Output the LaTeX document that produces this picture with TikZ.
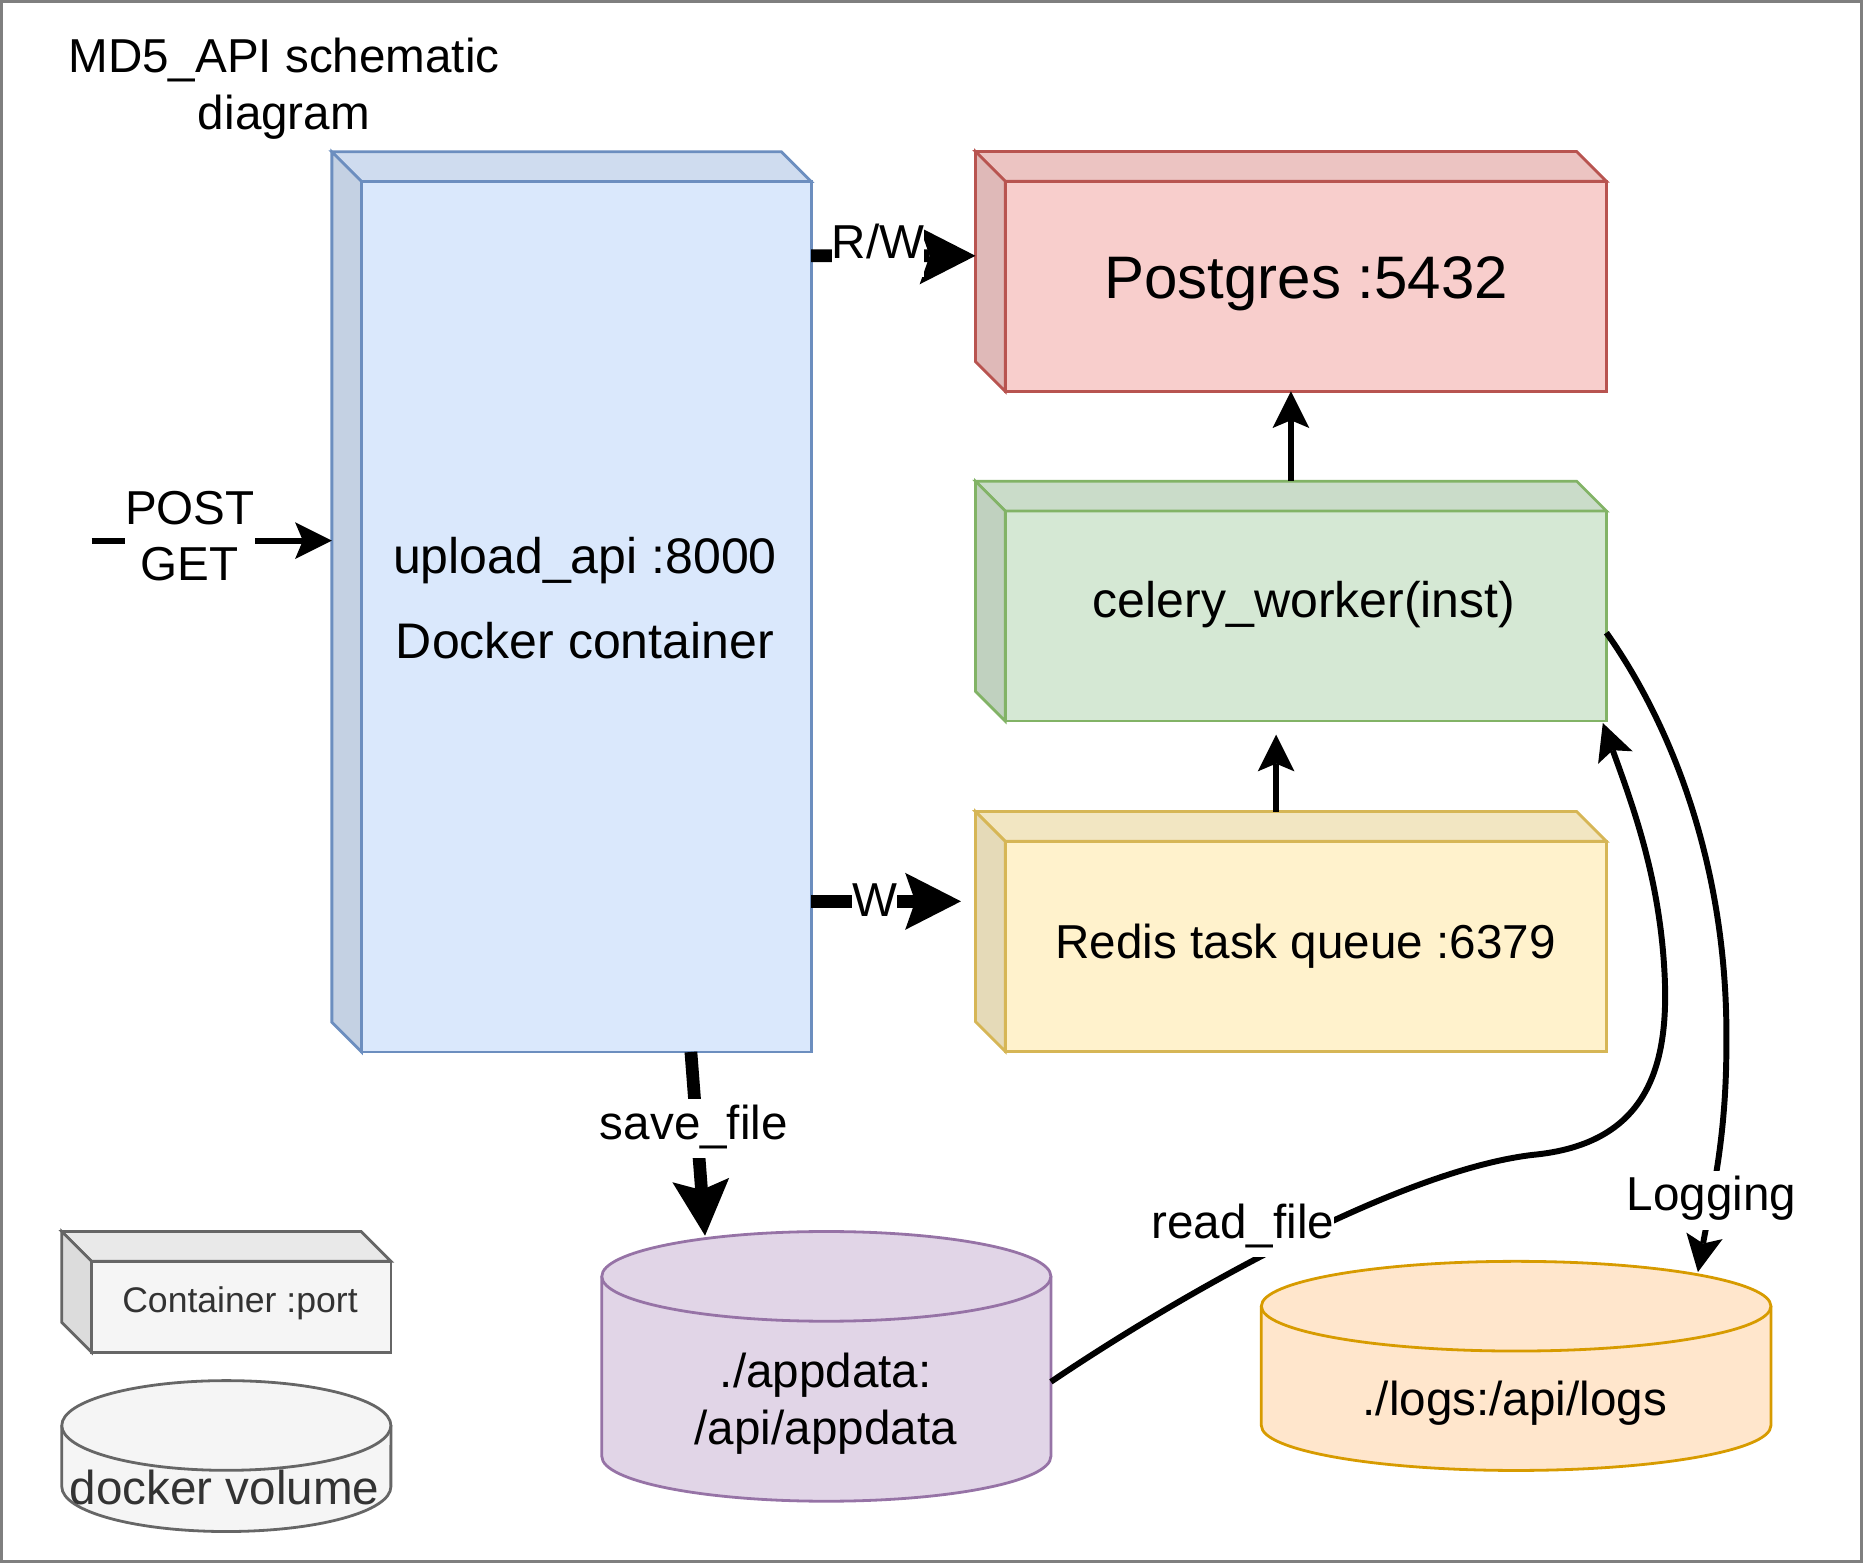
\documentclass[tikz,border=0pt]{standalone}
\usepackage{fontspec}
\setmainfont{Liberation Sans}
\usetikzlibrary{arrows.meta,calc}
\definecolor{bluefill}{HTML}{DAE8FC}\definecolor{bluestroke}{HTML}{6C8EBF}
\definecolor{redfill}{HTML}{F8CECC}\definecolor{redstroke}{HTML}{B85450}
\definecolor{greenfill}{HTML}{D5E8D4}\definecolor{greenstroke}{HTML}{82B366}
\definecolor{yellowfill}{HTML}{FFF2CC}\definecolor{yellowstroke}{HTML}{D6B656}
\definecolor{purplefill}{HTML}{E1D5E7}\definecolor{purplestroke}{HTML}{9673A6}
\definecolor{orangefill}{HTML}{FFE6CC}\definecolor{orangestroke}{HTML}{D79B00}
\definecolor{grayfill}{HTML}{F5F5F5}\definecolor{graystroke}{HTML}{666666}
\definecolor{graytext}{HTML}{333333}\definecolor{framegray}{HTML}{7F7F7F}
% cube faces drawn from the bounds of node #1
\newcommand{\cubefaces}[3]{%
  \path[facestroke, draw=#3, fill=#2] ($(#1.north west)+(25,25)$) rectangle (#1.south east);
  \path[facestroke, draw=#3, fill=#2!95!black] (#1.north west) -- ($(#1.north east)+(-25,0)$)
     -- ($(#1.north east)+(0,25)$) -- ($(#1.north west)+(25,25)$) -- cycle;
  \path[facestroke, draw=#3, fill=#2!90!black] (#1.north west) -- ($(#1.north west)+(25,25)$)
     -- ($(#1.south west)+(25,0)$) -- ($(#1.south west)+(0,-25)$) -- cycle;
}
% cylinder drawn from the bounds of node #1, #4 = x radius
\newcommand{\cylfaces}[4]{%
  \path[facestroke, draw=#3, fill=#2] ($(#1.north west)+(0,37.75)$) -- ($(#1.south west)+(0,-37.75)$)
     arc[start angle=180, end angle=360, x radius=#4, y radius=22.43pt] -- ($(#1.north east)+(0,37.75)$);
  \path[facestroke, draw=#3, fill=#2] ($(#1.north)+(0,37.75)$) ellipse[x radius=#4, y radius=22.43pt];
}
\begin{document}
\begin{tikzpicture}[x=0.5941pt, y=-0.5941pt,
  font=\fontsize{23.8}{28.4}\selectfont,
  shapebox/.style={rectangle, draw=none, inner sep=0pt, outer sep=0pt},
  facestroke/.style={line width=1.4pt},
  txt/.style={inner sep=0pt, outer sep=0pt, text=black},
  bigtxt/.style={txt, font=\fontsize{25}{28.4}\selectfont},
  lbl/.style={fill=white, inner sep=0pt, text height=20pt, text depth=9.5pt},
  lbltwo/.style={fill=white, inner sep=0pt, align=center},
  thinarrow/.style={draw=black, line width=2.97pt, -{Stealth[length=18.4pt, width=18.4pt, inset=3.9pt, line width=0pt]}},
  thickarrow/.style={draw=black, line width=6.36pt, -{Stealth[length=27.9pt, width=28.5pt, inset=5pt, line width=0pt]}},
  frame/.style={draw=framegray, line width=1.66pt}
]
\useasboundingbox (0,0) rectangle (1568,1315.5);
\draw[frame] (1.4,1.4) rectangle (1566.6,1314.1);

\node[txt, align=center] (title) at (239,74.7) {MD5\_API schematic\\diagram};

% containers
\node[shapebox, minimum width=239.66pt, minimum height=450.09pt] (api) at (481,506.6) {};
\cubefaces{api}{bluefill}{bluestroke}
\node[shapebox, minimum width=315.47pt, minimum height=119.89pt] (pg) at (1086.5,228.4) {};
\cubefaces{pg}{redfill}{redstroke}
\node[shapebox, minimum width=315.47pt, minimum height=119.89pt] (celery) at (1086.5,505.9) {};
\cubefaces{celery}{greenfill}{greenstroke}
\node[shapebox, minimum width=315.47pt, minimum height=119.89pt] (redis) at (1086.5,783.9) {};
\cubefaces{redis}{yellowfill}{yellowstroke}
\node[shapebox, minimum width=164.57pt, minimum height=60.30pt] (legendbox) at (190.5,1087.25) {};
\cubefaces{legendbox}{grayfill}{graystroke}

% volumes
\node[shapebox, minimum width=224.57pt, minimum height=134.86pt] (appdata) at (695.5,1150) {};
\cylfaces{appdata}{purplefill}{purplestroke}{112.28pt}
\node[shapebox, minimum width=254.81pt, minimum height=104.56pt] (logs) at (1276.05,1149.6) {};
\cylfaces{logs}{orangefill}{orangestroke}{127.4pt}
\node[shapebox, minimum width=164.57pt, minimum height=75.45pt] (volume) at (190.5,1225.5) {};
\cylfaces{volume}{grayfill}{graystroke}{82.28pt}

% connectors
\coordinate (client) at (77.2,455);
\draw[thinarrow] (client) -- ($(api.west)+(0,-51.6)$)
  node[lbltwo] (lblpost) at (159.8,451.3) {POST\\GET};
\draw[thickarrow] ($(api.north east)+(0,87.5)$) -- ($(pg.west)+(0,-13.1)$)
  node[lbl, anchor=base] (lblrw) at (739,217.4) {R/W};
\draw[thickarrow] ($(api.east)+(0,252)$) -- ($(redis.west)+(-12.2,-25.3)$)
  node[lbl, anchor=base] (lblw) at (736.4,771.5) {W};
\draw[thickarrow] ($(api.south)+(100.5,0)$) -- ($(appdata.north)+(-102.1,3.5)$)
  node[lbl, anchor=base] (lblsave) at (584,958.8) {save\_file};
\draw[thinarrow] ($(redis.north)+(-12.5,0)$) -- ($(celery.south)+(-12.5,11.5)$);
\draw[thinarrow] (celery.north) -- (pg.south);
\draw[thinarrow] ($(appdata.east)+(0,13)$) .. controls (1000,1085) and (1180,985) .. (1290,972)
  .. controls (1385,963) and (1405,900) .. (1401,820)
  .. controls (1397,740) and (1375,680) .. ($(celery.south east)+(-3,1.7)$)
  node[lbl, anchor=base] (lblread) at (1046,1042) {read\_file};
\draw[thinarrow] ($(celery.east)+(0,26.6)$) .. controls (1400,600) and (1455,720) .. (1453,880)
  .. controls (1453,960) and (1440,1010) .. ($(logs.north)+(153,9)$)
  node[lbl, anchor=base] (lbllog) at (1440.5,1019) {Logging};

% texts
\node[txt, anchor=base, font=\fontsize{30}{36}\selectfont] (pgtext) at (1099.4,251.2) {Postgres :5432};
\node[bigtxt, anchor=base] (celerytext) at (1097.6,519.5) {celery\_worker(inst)};
\node[txt, anchor=base] (redistext) at (1098.8,806.8) {Redis task queue :6379};
\node[bigtxt, align=center] (apitext) at (492.3,503.3) {upload\_api :8000\\[13.9pt]Docker container};
\node[txt, align=center] (appdatatext) at (695,1181.5) {./appdata:\\/api/appdata};
\node[txt, anchor=base] (logstext) at (1275,1191.3) {./logs:/api/logs};
\node[txt, anchor=base, text=graytext, font=\fontsize{17.8}{21.4}\selectfont] (legendtext) at (202,1104.5) {Container :port};
\node[txt, anchor=base, text=graytext] (volumetext) at (189,1266.2) {docker volume};
\end{tikzpicture}
\end{document}
